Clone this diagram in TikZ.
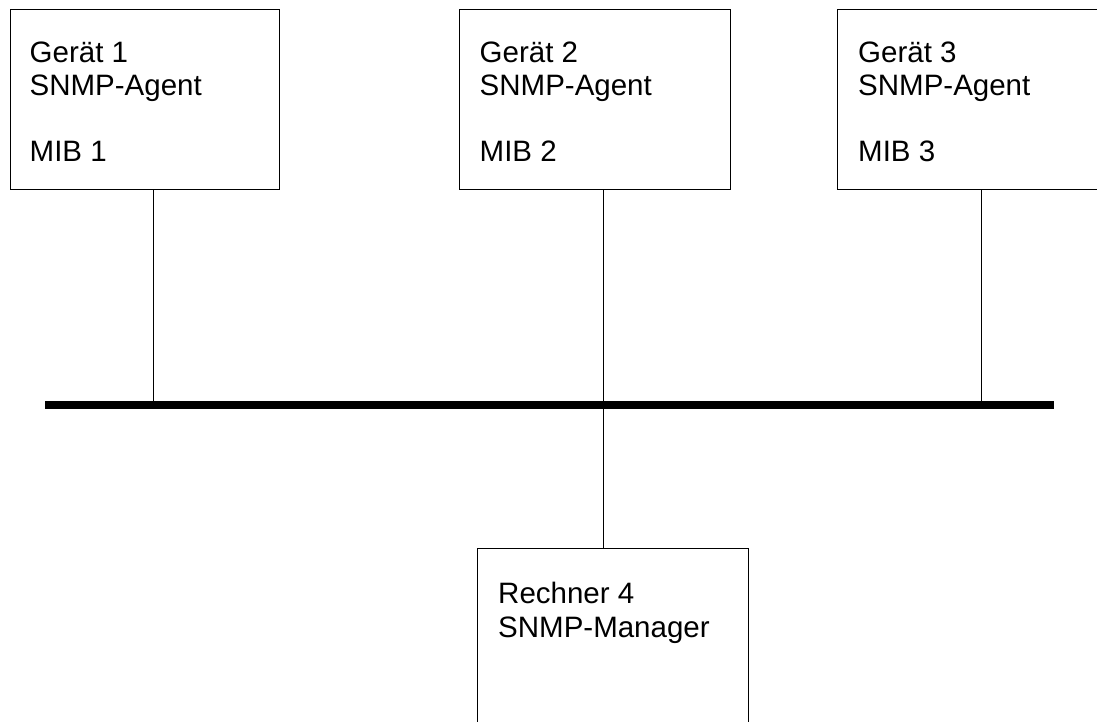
\documentclass[tikz,border=0pt]{standalone}
\usepackage{fontspec}
\setmainfont{Liberation Sans}
\begin{document}
\begin{tikzpicture}[x=1pt,y=-1pt,
  devbox/.style={draw=black,line width=1.3pt,fill=none},
  lbl/.style={anchor=base west,inner sep=0pt,font=\fontsize{29.5}{33}\selectfont},
  wire/.style={draw=black,line width=1pt},
  bus/.style={draw=black,line width=8pt}]
\useasboundingbox[fill=white] (0,0) rectangle (1097,722);
% boxes
\node[devbox,minimum width=269.5pt,minimum height=180pt,anchor=north west,inner sep=0pt] (g1) at (9.5,9) {};
\node[devbox,minimum width=271pt,minimum height=180pt,anchor=north west,inner sep=0pt] (g2) at (459,9) {};
\node[devbox,minimum width=270pt,minimum height=180pt,anchor=north west,inner sep=0pt] (g3) at (837,9) {};
\node[devbox,minimum width=271pt,minimum height=190pt,anchor=north west,inner sep=0pt] (r4) at (477,548) {};
% texts
\node[lbl] (g1a) at (29.5,62.5) {Gerät 1};
\node[lbl] (g1b) at (29.5,96) {SNMP-Agent};
\node[lbl] (g1c) at (29.5,162) {MIB 1};
\node[lbl] (g2a) at (479.5,62.5) {Gerät 2};
\node[lbl] (g2b) at (479.5,96) {SNMP-Agent};
\node[lbl] (g2c) at (479.5,162) {MIB 2};
\node[lbl] (g3a) at (858,62.5) {Gerät 3};
\node[lbl] (g3b) at (858,96) {SNMP-Agent};
\node[lbl] (g3c) at (858,162) {MIB 3};
\node[lbl] (r4a) at (498,603) {Rechner 4};
\node[lbl] (r4b) at (498,637) {SNMP-Manager};
% bus
\coordinate (busL) at (45,405);
\coordinate (busR) at (1054,405);
\coordinate (b1) at (153,405);
\coordinate (b2) at (603,405);
\coordinate (b3) at (981,405);
\draw[wire] (b1 |- g1.south) -- (b1);
\draw[wire] (b2 |- g2.south) -- (b2);
\draw[wire] (b3 |- g3.south) -- (b3);
\draw[wire] (b2) -- (b2 |- r4.north);
\draw[bus] (busL) -- (busR);
\end{tikzpicture}
\end{document}
